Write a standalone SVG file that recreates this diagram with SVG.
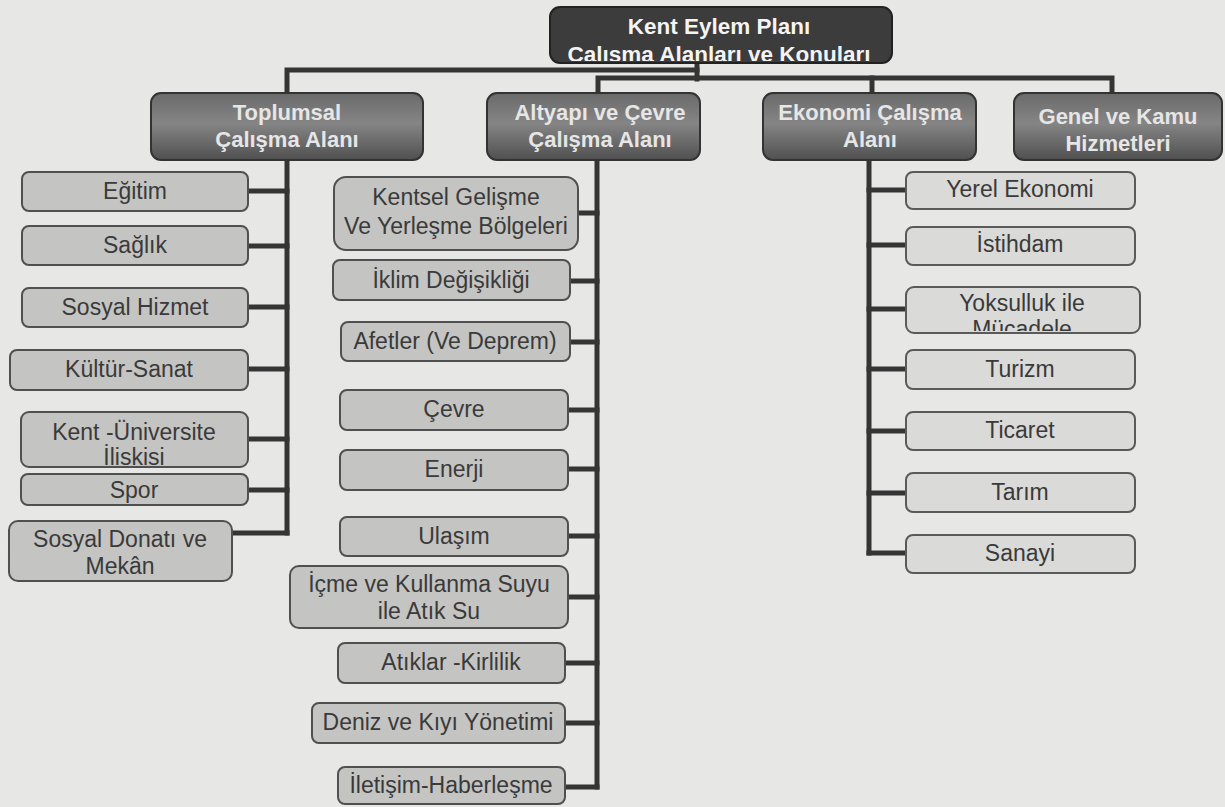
<svg xmlns="http://www.w3.org/2000/svg" width="1225" height="807" viewBox="0 0 1225 807">
<style>
.bg{fill:#e7e7e5}
.root{fill:#3c3c3c;stroke:#222;stroke-width:2}
.cat{fill:url(#catGrad);stroke:#333;stroke-width:2}
.item{fill:#c4c4c2;stroke:#505050;stroke-width:2}
.itemL{fill:#dadad8;stroke:#5a5a5a;stroke-width:2}
.tr{font-family:"Liberation Sans",Arial,sans-serif;font-size:22.5px;font-weight:bold;fill:#f4f4f4;text-anchor:middle}
.tc{font-family:"Liberation Sans",Arial,sans-serif;font-size:22px;font-weight:bold;fill:#e6e6e6;text-anchor:middle}
.ti{font-family:"Liberation Sans",Arial,sans-serif;font-size:23px;fill:#3a3a3a;text-anchor:middle}
.ln{stroke:#353535;stroke-width:5;fill:none;stroke-linecap:square}
</style>
<defs>
<linearGradient id="catGrad" x1="0" y1="0" x2="0" y2="1">
<stop offset="0" stop-color="#6a6a6a"/>
<stop offset="0.45" stop-color="#858585"/>
<stop offset="1" stop-color="#505050"/>
</linearGradient>
<clipPath id="rootClip"><rect x="550" y="7" width="342" height="54" rx="10"/></clipPath>
<clipPath id="yokClip"><rect x="906" y="287" width="234" height="44" rx="8"/></clipPath>
</defs>
<rect class="bg" x="0" y="0" width="1225" height="807"/>

<g id="connectors">
<path class="ln" d="M697 62 V79"/>
<path class="ln" d="M287 93 V70 H697"/>
<path class="ln" d="M598 93 V78 H1112 V93"/>
<path class="ln" d="M872 78 V93"/>
<path class="ln" d="M287 160 V533"/>
<path class="ln" d="M248 191 H287 M248 246 H287 M248 307 H287 M248 369 H287 M248 439 H287 M248 490 H287 M232 533 H287"/>
<path class="ln" d="M597 160 V787"/>
<path class="ln" d="M578 213 H597 M570 281 H597 M570 342 H597 M568 410 H597 M568 469 H597 M568 536 H597 M568 597 H597 M565 663 H597 M565 723 H597 M565 787 H597"/>
<path class="ln" d="M869 160 V553"/>
<path class="ln" d="M869 190 H906 M869 245 H906 M869 309 H906 M869 369 H906 M869 431 H906 M869 493 H906 M869 553 H906"/>
</g>

<g id="root">
<rect class="root" x="550" y="7" width="342" height="56" rx="10"/>
<g clip-path="url(#rootClip)">
<text class="tr" x="719" y="34">Kent Eylem Planı</text>
<text class="tr" x="719" y="62">Çalışma Alanları ve Konuları</text>
</g>
</g>

<g id="toplumsal"><rect class="cat" x="151" y="93" width="272" height="67" rx="10"/><text class="tc" x="287" y="120">Toplumsal</text><text class="tc" x="287" y="147">Çalışma Alanı</text></g>
<g id="altyapi"><rect class="cat" x="487" y="93" width="213" height="67" rx="10"/><text class="tc" x="600" y="120">Altyapı ve Çevre</text><text class="tc" x="600" y="147">Çalışma Alanı</text></g>
<g id="ekonomi"><rect class="cat" x="763" y="93" width="213" height="67" rx="10"/><text class="tc" x="870" y="120">Ekonomi Çalışma</text><text class="tc" x="870" y="147">Alanı</text></g>
<g id="genel"><rect class="cat" x="1014" y="93" width="208" height="67" rx="10"/><text class="tc" x="1118" y="124">Genel ve Kamu</text><text class="tc" x="1118" y="151">Hizmetleri</text></g>

<g id="egitim"><rect class="item" x="22" y="172" width="226" height="39" rx="7"/><text class="ti" x="135" y="199">Eğitim</text></g>
<g id="saglik"><rect class="item" x="22" y="226" width="226" height="39" rx="7"/><text class="ti" x="135" y="253">Sağlık</text></g>
<g id="sosyal-hizmet"><rect class="item" x="22" y="288" width="226" height="39" rx="7"/><text class="ti" x="135" y="315">Sosyal Hizmet</text></g>
<g id="kultur"><rect class="item" x="10" y="350" width="238" height="40" rx="7"/><text class="ti" x="129" y="377">Kültür-Sanat</text></g>
<g id="kent-uni"><rect class="item" x="21" y="412" width="227" height="55" rx="8"/><text class="ti" x="134" y="440">Kent -Üniversite</text><text class="ti" x="134" y="465">İliskisi</text></g>
<g id="spor"><rect class="item" x="21" y="474" width="227" height="31" rx="7"/><text class="ti" x="134" y="498">Spor</text></g>
<g id="sosyal-donati"><rect class="item" x="9" y="521" width="223" height="60" rx="9"/><text class="ti" x="120" y="547">Sosyal Donatı ve</text><text class="ti" x="120" y="574">Mekân</text></g>

<g id="kentsel"><rect class="item" x="334" y="177" width="244" height="73" rx="12"/><text class="ti" x="456" y="205">Kentsel Gelişme</text><text class="ti" x="456" y="234">Ve Yerleşme Bölgeleri</text></g>
<g id="iklim"><rect class="item" x="333" y="260" width="237" height="40" rx="7"/><text class="ti" x="451" y="288">İklim Değişikliği</text></g>
<g id="afetler"><rect class="item" x="341" y="322" width="229" height="39" rx="7"/><text class="ti" x="455" y="349">Afetler (Ve Deprem)</text></g>
<g id="cevre"><rect class="item" x="340" y="390" width="228" height="40" rx="7"/><text class="ti" x="454" y="417">Çevre</text></g>
<g id="enerji"><rect class="item" x="340" y="450" width="228" height="40" rx="7"/><text class="ti" x="454" y="477">Enerji</text></g>
<g id="ulasim"><rect class="item" x="340" y="517" width="228" height="39" rx="7"/><text class="ti" x="454" y="544">Ulaşım</text></g>
<g id="icme"><rect class="item" x="290" y="566" width="278" height="62" rx="9"/><text class="ti" x="429" y="592">İçme ve Kullanma Suyu</text><text class="ti" x="429" y="619">ile Atık Su</text></g>
<g id="atiklar"><rect class="item" x="338" y="643" width="227" height="40" rx="7"/><text class="ti" x="451" y="670">Atıklar -Kirlilik</text></g>
<g id="deniz"><rect class="item" x="312" y="703" width="253" height="40" rx="7"/><text class="ti" x="438" y="730">Deniz ve Kıyı Yönetimi</text></g>
<g id="iletisim"><rect class="item" x="338" y="767" width="227" height="37" rx="7"/><text class="ti" x="451" y="793">İletişim-Haberleşme</text></g>

<g id="yerel"><rect class="itemL" x="906" y="172" width="229" height="37" rx="7"/><text class="ti" x="1020" y="197">Yerel Ekonomi</text></g>
<g id="istihdam"><rect class="itemL" x="906" y="227" width="229" height="38" rx="7"/><text class="ti" x="1020" y="252">İstihdam</text></g>
<g id="yoksulluk"><rect class="itemL" x="906" y="287" width="234" height="46" rx="8"/><g clip-path="url(#yokClip)"><text class="ti" x="1022" y="311">Yoksulluk ile</text><text class="ti" x="1022" y="337">Mücadele</text></g></g>
<g id="turizm"><rect class="itemL" x="906" y="350" width="229" height="39" rx="7"/><text class="ti" x="1020" y="377">Turizm</text></g>
<g id="ticaret"><rect class="itemL" x="906" y="412" width="229" height="38" rx="7"/><text class="ti" x="1020" y="438">Ticaret</text></g>
<g id="tarim"><rect class="itemL" x="906" y="473" width="229" height="39" rx="7"/><text class="ti" x="1020" y="500">Tarım</text></g>
<g id="sanayi"><rect class="itemL" x="906" y="535" width="229" height="38" rx="7"/><text class="ti" x="1020" y="561">Sanayi</text></g>
</svg>
